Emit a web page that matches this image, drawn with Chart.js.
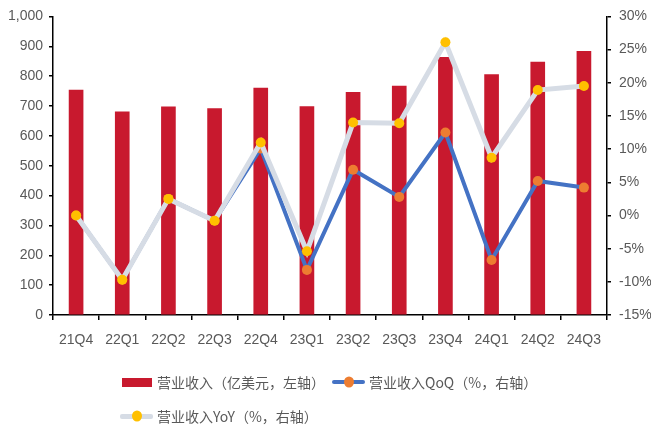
<!DOCTYPE html>
<html>
<head>
<meta charset="utf-8">
<script src="https://cdn.jsdelivr.net/npm/chart.js@4/dist/chart.umd.min.js"></script>
<style>
  html, body { margin: 0; padding: 0; background: #fff; }
  #wrap { position: relative; width: 651px; height: 429px; overflow: hidden; }
  #chart { position: absolute; left: 0; top: 0; }
  .lg { position: absolute; height: 20px; line-height: 20px; display: flex; align-items: center;
        font: 14px "Noto Sans CJK SC", "Noto Sans", sans-serif; color: #595959; white-space: nowrap; }
  .sym { position: relative; display: inline-block; height: 20px; margin-right: 4px; }
  .bar-sw { width: 30px; height: 9px; background: #C8192E; margin-right: 5px; }
  .ln { position: absolute; left: 0; right: 0; top: 50%; border-radius: 2px; }
  .dot { position: absolute; width: 10px; height: 11px; border-radius: 50%; left: 50%; top: 50%;
         transform: translate(-50%, -50%); }
</style>
</head>
<body>
<div id="wrap">
  <canvas id="chart" width="651" height="429"></canvas>
  <div class="lg" style="left:122px; top:372px;">
    <span class="bar-sw"></span><span>营业收入（亿美元，左轴）</span>
  </div>
  <div class="lg" style="left:332px; top:372px;">
    <span class="sym" style="width:33px;"><span class="ln" style="height:4px;margin-top:-2px;background:#4472C4;"></span><span class="dot" style="background:#ED7D31;"></span></span><span>营业收入QoQ（%，右轴）</span>
  </div>
  <div class="lg" style="left:120px; top:406px;">
    <span class="sym" style="width:33px;"><span class="ln" style="height:5px;margin-top:-2.5px;background:#D6DCE5;"></span><span class="dot" style="background:#FFC000;"></span></span><span>营业收入YoY（%，右轴）</span>
  </div>
</div>
<script>
// Quarterly revenue (100M USD) with QoQ / YoY growth (%)
const categories = ['21Q4', '22Q1', '22Q2', '22Q3', '22Q4', '23Q1', '23Q2', '23Q3', '23Q4', '24Q1', '24Q2', '24Q3'];
const revenue    = [753, 680, 697, 691, 760, 698, 746, 767, 863, 805, 847, 883];
const revenueQoQ = [0.0, -9.7, 2.5, -0.8, 10.1, -8.2, 6.9, 2.8, 12.5, -6.7, 5.2, 4.2];
const revenueYoY = [0.0, -9.7, 2.5, -0.8, 11.0, -5.4, 14.0, 13.9, 26.1, 8.7, 18.9, 19.5];

// Axis ranges
const leftAxis  = { min: 0, max: 1000, step: 100 };
const rightAxis = { min: -15, max: 30, step: 5 };

const tickFont = { family: '"Liberation Sans Narrow", "Liberation Sans", Arial, sans-serif', size: 14 };
const tickColor = '#595959';
const axisLine = { color: '#000', width: 1.5 };

new Chart(document.getElementById('chart'), {
  data: {
    labels: categories,
    datasets: [
      {
        type: 'bar',
        label: '营业收入（亿美元，左轴）',
        data: revenue,
        backgroundColor: '#C8192E',
        barThickness: 14,
        yAxisID: 'y',
        order: 3
      },
      {
        type: 'line',
        label: '营业收入QoQ（%，右轴）',
        data: revenueQoQ,
        borderColor: '#4472C4',
        borderWidth: 4,
        pointRadius: 5,
        pointBackgroundColor: '#ED7D31',
        pointBorderWidth: 0,
        tension: 0,
        yAxisID: 'y1',
        order: 2
      },
      {
        type: 'line',
        label: '营业收入YoY（%，右轴）',
        data: revenueYoY,
        borderColor: '#D6DCE5',
        borderWidth: 5,
        pointRadius: 5,
        pointBackgroundColor: '#FFC000',
        pointBorderWidth: 0,
        tension: 0,
        yAxisID: 'y1',
        order: 1
      }
    ]
  },
  options: {
    responsive: false,
    animation: false,
    devicePixelRatio: 1,
    layout: { padding: { left: 0, right: 0, top: 14, bottom: 74 } },
    plugins: { legend: { display: false }, tooltip: { enabled: false } },
    scales: {
      x: {
        offset: true,
        grid: { offset: true, drawOnChartArea: false, drawTicks: true, tickLength: 5, color: '#000', lineWidth: 1.5 },
        border: axisLine,
        ticks: { color: tickColor, font: tickFont, padding: 12, maxRotation: 0 },
        afterFit: s => { s.height = 40; }
      },
      y: {
        position: 'left',
        min: leftAxis.min, max: leftAxis.max,
        grid: { drawOnChartArea: false, drawTicks: true, tickLength: 4, color: '#000', lineWidth: 1.5 },
        border: axisLine,
        ticks: { stepSize: leftAxis.step, color: tickColor, font: tickFont, padding: 6,
                 callback: v => v.toLocaleString('en-US') },
        afterFit: s => { s.width = 53; }
      },
      y1: {
        position: 'right',
        min: rightAxis.min, max: rightAxis.max,
        grid: { drawOnChartArea: false, drawTicks: true, tickLength: 4, color: '#000', lineWidth: 1.5 },
        border: axisLine,
        ticks: { stepSize: rightAxis.step, color: tickColor, font: tickFont, padding: 8,
                 callback: v => v + '%' },
        afterFit: s => { s.width = 44; }
      }
    }
  }
});
</script>
</body>
</html>
